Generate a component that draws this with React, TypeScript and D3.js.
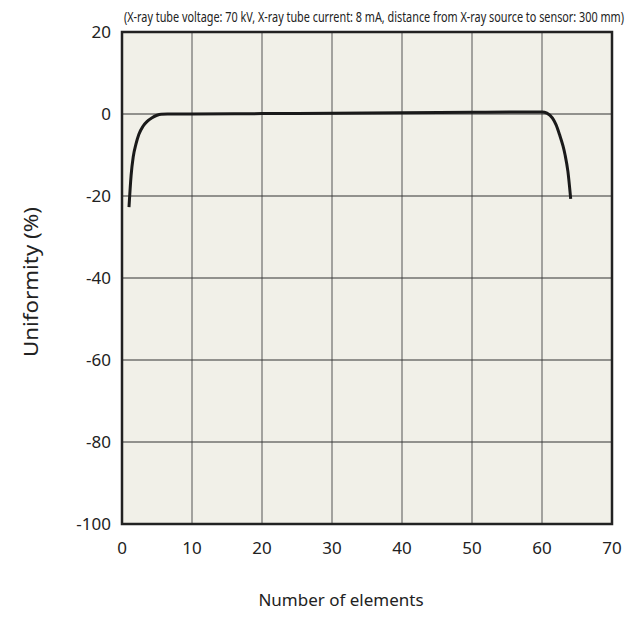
import React from "react";
import * as d3 from "d3";

const elements = [1, 1.3, 1.6, 2, 2.4, 3, 3.6, 4.3, 5, 5.6, 6.5, 10, 20, 30, 40, 50, 58, 60, 60.7, 61.5, 62, 62.5, 63, 63.3, 63.7, 64.1];
const uniformity = [-22.7, -15, -10.5, -7.3, -5, -3, -1.8, -0.9, -0.3, -0.05, 0, 0, 0.1, 0.2, 0.3, 0.4, 0.5, 0.5, 0.2, -1, -2.6, -5, -7.8, -10, -14, -20.7];
const xTicks = [0, 10, 20, 30, 40, 50, 60, 70];
const yTicks = [20, 0, -20, -40, -60, -80, -100];

const W = 637, H = 622;
const L = 122, R = 612, T = 32, B = 524;
const font = "'Noto Sans', 'DejaVu Sans', sans-serif";

export default function App() {
  const x = d3.scaleLinear().domain([0, 70]).range([L, R]);
  const y = d3.scaleLinear().domain([-100, 20]).range([B, T]);
  const data = elements.map((e, i) => [e, uniformity[i]] as [number, number]);
  const line = d3.line<[number, number]>().x(d => x(d[0])).y(d => y(d[1])).curve(d3.curveMonotoneX);
  return (
    <svg width={W} height={H} style={{ position: "absolute", left: 0, top: 0 }}>
      <rect x={0} y={0} width={W} height={H} fill="#fff" />
      <rect x={L} y={T} width={R - L} height={B - T} fill="#f1f0e8" />
      {xTicks.slice(1, -1).map(t => (
        <line key={"gx" + t} x1={x(t)} x2={x(t)} y1={T} y2={B} stroke="#555" strokeWidth={1} />
      ))}
      {yTicks.slice(1, -1).map(t => (
        <line key={"gy" + t} x1={L} x2={R} y1={y(t)} y2={y(t)} stroke="#333" strokeWidth={1} />
      ))}
      <path d={line(data) || ""} fill="none" stroke="#1a1a1a" strokeWidth={3} strokeLinejoin="round" />
      <rect x={L} y={T} width={R - L} height={B - T} fill="none" stroke="#222" strokeWidth={2.5} />
      {xTicks.map(t => (
        <text key={"tx" + t} x={x(t)} y={B + 30} textAnchor="middle" fontSize={17} fontFamily={font} fill="#222">{t}</text>
      ))}
      {yTicks.map(t => (
        <text key={"ty" + t} x={L - 11} y={y(t)} dy="0.35em" textAnchor="end" fontSize={17} fontFamily={font} fill="#222">{t}</text>
      ))}
      <text transform="translate(124,22) scale(1,1.25)" fontSize={11} fontFamily={font} fill="#222" textLength={500} lengthAdjust="spacingAndGlyphs">
        (X-ray tube voltage: 70 kV, X-ray tube current: 8 mA, distance from X-ray source to sensor: 300 mm)
      </text>
      <text x={341} y={606} textAnchor="middle" fontSize={17} fontFamily={font} fill="#222">Number of elements</text>
      <text transform={`translate(38, 282) rotate(-90)`} textAnchor="middle" fontSize={19} fontFamily={font} fill="#222" textLength={150} lengthAdjust="spacingAndGlyphs">Uniformity (%)</text>
    </svg>
  );
}
